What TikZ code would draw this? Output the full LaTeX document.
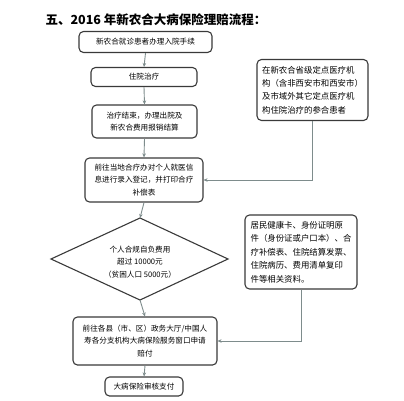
\documentclass[tikz,border=0pt]{standalone}
\usepackage{fontspec}
\setmainfont{Liberation Serif}
\newfontfamily\cjk{Noto Sans CJK SC}
\usetikzlibrary{arrows.meta}
\definecolor{conn}{HTML}{7E8C8C}
\definecolor{edge}{HTML}{3A3A3A}
\tikzset{
  box/.style={draw=edge, line width=1.1pt, rounded corners=4.5pt, align=center, inner sep=0pt,
    font=\cjk\fontsize{7.6}{12.5}\selectfont},
  lbox/.style={box, align=left, font=\cjk\fontsize{8.4}{13.4}\selectfont},
  conarrow/.style={draw=conn, line width=0.9pt, -{Stealth[length=4pt,width=3.5pt]}},
}
\begin{document}
\begin{tikzpicture}[x=1pt,y=-1pt]
\useasboundingbox[fill=white] (0,0) rectangle (404,400);
\node[anchor=west, font=\cjk\bfseries\fontsize{12.5}{14}\selectfont] (title) at (42,20) {五、2016 年新农合大病保险理赔流程：};
\node[box, minimum width=133pt, minimum height=21pt] (n1) at (145.5,42) {新农合就诊患者办理入院手续};
\node[box, minimum width=106pt, minimum height=19pt] (n2) at (144,77) {住院治疗};
\node[box, minimum width=105pt, minimum height=33pt] (n3) at (144.5,121.5) {治疗结束，办理出院及\\新农合费用报销结算};
\node[box, minimum width=118pt, minimum height=44pt] (n4) at (144,180) {前往当地合疗办对个人就医信\\息进行录入登记，并打印合疗\\补偿表};
\coordinate (dt) at (140,218);
\coordinate (db) at (140,300);
\coordinate (dl) at (51,259);
\coordinate (dr) at (228,259);
\draw[draw=edge, line width=1.1pt] (dt) -- (dr) -- (db) -- (dl) -- cycle;
\node[align=center, font=\cjk\fontsize{7.6}{12.5}\selectfont] (d) at (140,262) {个人合规自负费用\\超过 10000元\\（贫困人口 5000元）};
\node[box, minimum width=144pt, minimum height=48pt] (n5) at (145,341) {前往各县（市、区）政务大厅/中国人\\寿各分支机构大病保险服务窗口申请\\赔付};
\node[box, minimum width=78pt, minimum height=19pt] (n6) at (144,386.5) {大病保险审核支付};
\node[lbox, minimum width=111pt, minimum height=61pt] (ra) at (312.5,90) {在新农合省级定点医疗机\\构（含非西安市和西安市）\\及市域外其它定点医疗机\\构住院治疗的参合患者};
\node[lbox, minimum width=112pt, minimum height=74pt] (rb) at (301,252) {居民健康卡、身份证明原\\件（身份证或户口本）、合\\疗补偿表、住院结算发票、\\住院病历、费用清单复印\\件等相关资料。};
\draw[conarrow] (n1.south) -- (n2.north);
\draw[conarrow] (n2.south) -- (n3.north);
\draw[conarrow] (n3.south) -- (n4.north);
\draw[conarrow] (n4.south) -- (dt);
\draw[conarrow] (db) -- (n5.north);
\draw[conarrow] (n5.south) -- (n6.north);
\draw[conarrow] (ra.south) |- (n4.east);
\draw[conarrow] (rb.south) |- (n5.east);
\end{tikzpicture}
\end{document}
